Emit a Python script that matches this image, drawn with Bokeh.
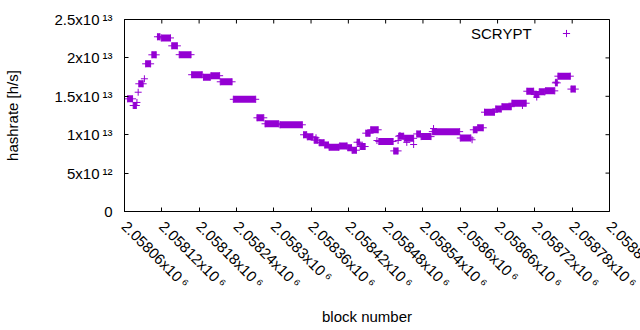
import math
from bokeh.plotting import figure
from bokeh.models import LinearAxis, FixedTicker, Range1d, Legend, LegendItem, Label
from bokeh.embed import file_html
from bokeh.resources import INLINE

# runs of blocks with a constant hashrate (value in units of 1e13 h/s)
run_start = [2058065, 2058074, 2058083, 2058094, 2058104, 2058113, 2058119, 2058136, 2058148, 2058168,
             2058187, 2058199, 2058214, 2058235, 2058273, 2058286, 2058310, 2058348, 2058354, 2058365,
             2058373, 2058382, 2058389, 2058406, 2058419, 2058426, 2058434, 2058439, 2058448, 2058456,
             2058469, 2058493, 2058501, 2058510, 2058530, 2058537, 2058555, 2058600, 2058621, 2058628,
             2058639, 2058657, 2058667, 2058683, 2058707, 2058719, 2058727, 2058737, 2058753, 2058757,
             2058778]
run_end = [2058073, 2058079, 2058090, 2058102, 2058111, 2058117, 2058134, 2058145, 2058167, 2058185,
           2058198, 2058213, 2058233, 2058271, 2058284, 2058308, 2058346, 2058353, 2058363, 2058371,
           2058381, 2058388, 2058405, 2058418, 2058425, 2058433, 2058438, 2058447, 2058455, 2058468,
           2058492, 2058500, 2058509, 2058525, 2058536, 2058553, 2058599, 2058617, 2058627, 2058637,
           2058655, 2058666, 2058682, 2058706, 2058718, 2058726, 2058736, 2058752, 2058756, 2058777,
           2058785]
run_hash = [1.467, 1.380, 1.663, 1.923, 2.040, 2.275, 2.260, 2.157, 2.042, 1.781,
            1.749, 1.768, 1.689, 1.461, 1.220, 1.142, 1.129, 0.999, 0.973, 0.929,
            0.896, 0.866, 0.837, 0.853, 0.831, 0.798, 0.902, 0.846, 1.020, 1.064,
            0.911, 0.789, 0.980, 0.953, 1.010, 0.975, 1.040, 0.957, 1.064, 1.090,
            1.293, 1.335, 1.365, 1.410, 1.566, 1.523, 1.558, 1.571, 1.675, 1.762,
            1.594]

# isolated blocks
pt_block = [2058080, 2058082, 2058092, 2058368, 2058466, 2058500, 2058503, 2058514, 2058525,
            2058557, 2058619, 2058700, 2058723, 2058754]
pt_hash = [1.420, 1.553, 1.728, 0.960, 0.924, 0.924, 0.990, 0.900, 0.872,
           1.080, 0.934, 1.380, 1.490, 1.684]

x_ticks = [2058060, 2058120, 2058180, 2058240, 2058300, 2058360, 2058420, 2058480,
           2058540, 2058600, 2058660, 2058720, 2058780, 2058840]
x_tick_labels = ["2.05806x10\u2009\u2076", "2.05812x10\u2009\u2076", "2.05818x10\u2009\u2076",
                 "2.05824x10\u2009\u2076", "2.0583x10\u2009\u2076", "2.05836x10\u2009\u2076",
                 "2.05842x10\u2009\u2076", "2.05848x10\u2009\u2076", "2.05854x10\u2009\u2076",
                 "2.0586x10\u2009\u2076", "2.05866x10\u2009\u2076", "2.05872x10\u2009\u2076",
                 "2.05878x10\u2009\u2076", "2.05884x10\u2009\u2076"]
y_ticks = [0, 5e12, 1e13, 1.5e13, 2e13, 2.5e13]
y_tick_labels = ["0", "5x10\u2009\u00b9\u00b2", "1x10\u2009\u00b9\u00b3", "1.5x10\u2009\u00b9\u00b3",
                 "2x10\u2009\u00b9\u00b3", "2.5x10\u2009\u00b9\u00b3"]

COLOR = "#9400D3"
FONT = "Liberation Sans"
FS = "15px"
SCALE = 1e13

p = figure(frame_width=485, frame_height=192, output_backend="svg", toolbar_location=None,
           x_range=Range1d(x_ticks[0], x_ticks[-1]), y_range=Range1d(y_ticks[0], y_ticks[-1]),
           min_border_left=124, min_border_right=31, min_border_top=19, min_border_bottom=119,
           x_axis_location=None, y_axis_location=None)
p.grid.visible = False
p.outline_line_color = "black"
p.outline_line_width = 1
p.background_fill_color = "white"
p.border_fill_color = "white"

# filled body of each run
p.segment(x0=run_start, y0=[v * SCALE for v in run_hash], x1=run_end, y1=[v * SCALE for v in run_hash],
          line_width=7, line_cap="butt", line_color=COLOR)
# plus markers at run ends and isolated blocks
cx = run_start + run_end + pt_block
cy = [v * SCALE for v in run_hash + run_hash + pt_hash]
cr = p.scatter(x=cx, y=cy, marker="cross", size=7, line_width=1, line_color=COLOR)

# mirrored inward ticks on the top and right borders (clipped to the frame)
p.scatter(x=x_ticks, y=[y_ticks[-1]] * len(x_ticks), marker="dash", angle=math.pi / 2,
          size=8, line_color="black", line_width=1)
p.scatter(x=[x_ticks[-1]] * len(y_ticks), y=y_ticks, marker="dash",
          size=8, line_color="black", line_width=1)

def style_axis(ax):
    ax.major_tick_in = 4
    ax.major_tick_out = 0
    ax.minor_tick_in = 0
    ax.minor_tick_out = 0
    ax.axis_line_color = "black"
    ax.major_tick_line_color = "black"
    ax.major_label_text_font = FONT
    ax.major_label_text_font_size = FS
    ax.major_label_text_color = "black"
    ax.axis_label_text_font = FONT
    ax.axis_label_text_font_size = FS
    ax.axis_label_text_font_style = "normal"
    ax.axis_label_text_color = "black"

xb = LinearAxis(ticker=FixedTicker(ticks=x_ticks[:-1]), axis_label="block number")
style_axis(xb)
xb.major_label_overrides = {float(t): s for t, s in zip(x_ticks[:-1], x_tick_labels[:-1])}
xb.major_label_orientation = -math.pi / 4
xb.major_label_standoff = 12
xb.axis_label_standoff = 8
p.add_layout(xb, "below")

# last x tick label sits on the right border and runs off the page, as in the original
p.add_layout(Label(x=x_ticks[-1], y=y_ticks[0], x_units="data", y_units="data",
                   text=x_tick_labels[-1], angle=-math.pi / 4, text_align="left",
                   text_baseline="middle", y_offset=-12, text_font=FONT, text_font_size=FS,
                   text_color="black"), "below")

yl = LinearAxis(ticker=FixedTicker(ticks=y_ticks), axis_label="hashrate [h/s]")
style_axis(yl)
yl.major_label_overrides = {float(t): s for t, s in zip(y_ticks, y_tick_labels)}
yl.major_label_standoff = 12
yl.axis_label_standoff = 30
p.add_layout(yl, "left")

legend = Legend(items=[LegendItem(label="SCRYPT", renderers=[]),
                       LegendItem(label="", renderers=[cr])],
                orientation="horizontal",
                location=(329, 169), glyph_width=18, glyph_height=18, label_standoff=0,
                spacing=25, padding=0, margin=0, border_line_color=None, background_fill_alpha=0,
                label_text_font=FONT, label_text_font_size=FS, label_text_color="black")
p.add_layout(legend)

open("out.html", "w").write(file_html(p, INLINE))
